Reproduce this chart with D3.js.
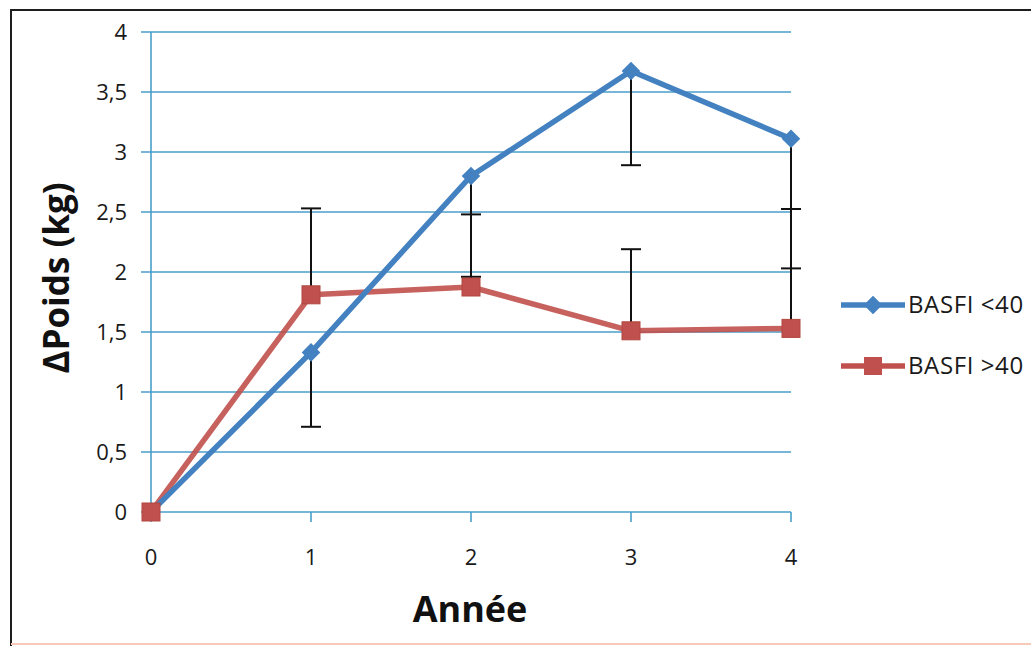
<!DOCTYPE html>
<html><head><meta charset="utf-8">
<script src="https://cdn.jsdelivr.net/npm/d3@7"></script>
<style>body{margin:0;background:#fff}svg{display:block}</style>
</head><body>
<svg id="c" width="1031" height="647"></svg>
<script>
const years = [0, 1, 2, 3, 4];
const yTicks = [0, 0.5, 1, 1.5, 2, 2.5, 3, 3.5, 4];
const seriesNames = ["BASFI <40", "BASFI >40"];
const lowValues = [0, 1.33, 2.80, 3.675, 3.11];
const highValues = [0, 1.81, 1.875, 1.51, 1.53];
const lowErrMinus = [0, 0.62, 0.84, 0.785, 1.08];
const highErrPlus = [0, 0.72, 0.605, 0.68, 0.995];

const svg = d3.select("#c");
const font = "'Open Sans', 'DejaVu Sans', sans-serif";
const gridColor = "#4a9ec8";
const blue = "#4381c1", red = "#c0504d";

// outer frame
svg.append("rect").attr("x",0).attr("y",0).attr("width",1031).attr("height",647).attr("fill","#fff");
svg.append("path").attr("d","M11,646 L11,10 L1031,10").attr("fill","none").attr("stroke","#1e1e1e").attr("stroke-width",2);
svg.append("line").attr("x1",11).attr("x2",1031).attr("y1",644).attr("y2",644).attr("stroke","#f6c9b8").attr("stroke-width",2);

const x = d3.scaleLinear().domain([0,4]).range([151,791]);
const y = d3.scaleLinear().domain([0,4]).range([512,32]);

// gridlines
svg.append("g").selectAll("line").data(yTicks).join("line")
  .attr("x1",141).attr("x2",791).attr("y1",d=>y(d)).attr("y2",d=>y(d))
  .attr("stroke",gridColor).attr("stroke-width",1.6);
// y axis
svg.append("line").attr("x1",151).attr("x2",151).attr("y1",y(4)).attr("y2",y(0))
  .attr("stroke",gridColor).attr("stroke-width",1.6);
// x axis ticks
svg.append("g").selectAll("line").data(years).join("line")
  .attr("x1",d=>x(d)).attr("x2",d=>x(d)).attr("y1",y(0)).attr("y2",y(0)+10)
  .attr("stroke",gridColor).attr("stroke-width",1.6);

// tick labels
svg.append("g").selectAll("text").data(yTicks).join("text")
  .attr("x",127).attr("y",d=>y(d)+8).attr("text-anchor","end")
  .attr("font-family",font).attr("font-size",22).attr("fill","#1a1a1a")
  .text(d=>String(d).replace(".",","));
svg.append("g").selectAll("text").data(years).join("text")
  .attr("x",d=>x(d)).attr("y",565).attr("text-anchor","middle")
  .attr("font-family",font).attr("font-size",22).attr("fill","#1a1a1a")
  .text(d=>d);

// axis titles
svg.append("text").attr("transform","translate(69,278) rotate(-90)").attr("text-anchor","middle")
  .attr("font-family",font).attr("font-weight","bold").attr("font-size",35).attr("fill","#111")
  .text("ΔPoids (kg)");
svg.append("text").attr("x",470).attr("y",622).attr("text-anchor","middle")
  .attr("font-family",font).attr("font-weight","bold").attr("font-size",36).attr("fill","#111")
  .text("Année");

// error bars
const capW = 20;
function errBar(xv, y1v, y2v) {
  const g = svg.append("g").attr("stroke","#111").attr("stroke-width",2);
  g.append("line").attr("x1",x(xv)).attr("x2",x(xv)).attr("y1",y(y1v)).attr("y2",y(y2v));
  g.append("line").attr("x1",x(xv)-capW/2).attr("x2",x(xv)+capW/2).attr("y1",y(y2v)).attr("y2",y(y2v));
}
years.forEach((yr,i)=>{
  if (lowErrMinus[i] > 0) errBar(yr, lowValues[i], lowValues[i]-lowErrMinus[i]);
  if (highErrPlus[i] > 0) errBar(yr, highValues[i], highValues[i]+highErrPlus[i]);
});

const line = d3.line().x((d,i)=>x(years[i])).y(d=>y(d));
// red series line
svg.append("path").datum(highValues).attr("d",line).attr("fill","none")
  .attr("stroke",red).attr("stroke-width",5.5).attr("stroke-linejoin","round").attr("opacity",0.9);
// blue series
svg.append("path").datum(lowValues).attr("d",line).attr("fill","none")
  .attr("stroke",blue).attr("stroke-width",5.5).attr("stroke-linejoin","round");
const diamond = d3.symbol().type(d3.symbolDiamond2).size(220);
svg.append("g").selectAll("path").data(lowValues).join("path")
  .attr("transform",(d,i)=>`translate(${x(years[i])},${y(d)})`).attr("d",diamond).attr("fill",blue);
// red markers on top
svg.append("g").selectAll("rect").data(highValues).join("rect")
  .attr("x",(d,i)=>x(years[i])-9).attr("y",d=>y(d)-9).attr("width",18).attr("height",18)
  .attr("fill",red).attr("stroke","#b0463f").attr("stroke-width",1);

// legend
const legY = [305, 366];
const legColors = [blue, red];
seriesNames.forEach((name,i)=>{
  svg.append("line").attr("x1",841).attr("x2",905).attr("y1",legY[i]).attr("y2",legY[i])
    .attr("stroke",legColors[i]).attr("stroke-width",5.5);
  if (i===0) svg.append("path").attr("transform",`translate(873,${legY[i]})`).attr("d",diamond).attr("fill",blue);
  else svg.append("rect").attr("x",864).attr("y",legY[i]-9).attr("width",18).attr("height",18).attr("fill",red);
  svg.append("text").attr("x",908).attr("y",legY[i]+8).attr("font-family",font).attr("font-size",24)
    .attr("letter-spacing",0.6).attr("fill","#1a1a1a").text(name);
});
</script>
</body></html>
